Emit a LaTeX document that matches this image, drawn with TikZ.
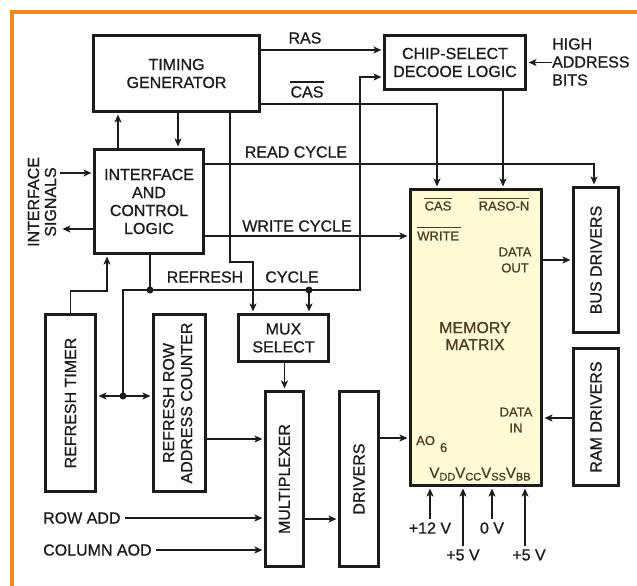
\documentclass[tikz,border=0pt]{standalone}
\usepackage{fontspec}
\setmainfont{Liberation Sans}[FakeBold=0.8]
\usetikzlibrary{arrows.meta,calc}
\definecolor{frameor}{RGB}{240,138,30}
\definecolor{mfill}{RGB}{255,250,214}
\definecolor{mtext}{RGB}{78,62,32}
\definecolor{ink}{RGB}{28,28,28}
\begin{document}
\begin{tikzpicture}[x=1pt,y=-1pt,
  box/.style={draw=ink, line width=3.3pt, inner sep=0pt, align=center, text=ink, font=\fontsize{16}{18}\selectfont},
  lbl/.style={inner sep=0pt, text=ink, font=\fontsize{16}{18}\selectfont},
  pin/.style={inner sep=0pt, text=mtext, font=\fontsize{13}{16}\selectfont},
  wire/.style={draw=ink, line width=1.3pt},
  ovl/.style={draw=mtext, line width=1.1pt},
  arr/.style={wire, shorten >=1.4pt, -{Stealth[length=8pt,width=7pt,inset=2pt]}},
  jdot/.style={fill=ink}]
\useasboundingbox (0,0) rectangle (637,586);
\fill[white] (0,0) rectangle (637,586);
\draw[frameor, line width=4pt] (12,586) -- (12,12) -- (637,12);

% boxes
\node[box, minimum width=166pt, minimum height=76pt] (tg) at (176.5,73.5) {TIMING\\GENERATOR};
\node[box, minimum width=141pt, minimum height=54pt] (cs) at (455,62.5) {CHIP-SELECT\\DECOOE LOGIC};
\node[box, minimum width=109pt, minimum height=104pt] (icl) at (149,201.5) {INTERFACE\\AND\\CONTROL\\LOGIC};
\node[box, fill=mfill, minimum width=131pt, minimum height=296pt] (mm) at (476,337.5) {};
\node[box, minimum width=45pt, minimum height=145pt] (bus) at (596,260) {\rotatebox{90}{BUS DRIVERS}};
\node[box, minimum width=45pt, minimum height=137pt] (ram) at (596,417) {\rotatebox{90}{RAM DRIVERS}};
\node[box, minimum width=39pt, minimum height=175pt] (drv) at (359,479) {\rotatebox{90}{DRIVERS}};
\node[box, minimum width=38pt, minimum height=175pt] (mux) at (284.5,479) {\rotatebox{90}{MULTIPLEXER}};
\node[box, minimum width=52pt, minimum height=177pt] (rrc) at (179.5,403) {\rotatebox{90}{\begin{tabular}{@{}c@{}}REFRESH ROW\\ADDRESS COUNTER\end{tabular}}};
\node[box, minimum width=50pt, minimum height=177pt] (rt) at (70.5,403) {\rotatebox{90}{REFRESH TIMER}};
\node[box, minimum width=90pt, minimum height=47pt] (ms) at (283.5,338) {MUX\\SELECT};

% memory matrix labels
\node[pin] (pcas) at (438,206) {CAS};
\draw[ovl] ([yshift=3pt]pcas.north west) -- ([yshift=3pt]pcas.north east);
\node[pin] (pras) at (504,206) {RASO-N};
\draw[ovl] ([yshift=3pt]pras.north west) -- ([yshift=3pt]pras.north east);
\node[pin, anchor=west] (pwr) at (417,236) {WRITE};
\draw[ovl] ([yshift=3.5pt]pwr.north west) -- ([yshift=3.5pt,xshift=2pt]pwr.north east);
\node[pin, align=center] (pdo) at (515,260) {DATA\\OUT};
\node[pin, align=center] (pdi) at (516,420) {DATA\\IN};
\node[pin, align=center, font=\fontsize{16}{17}\selectfont] (pmm) at (475,336) {MEMORY\\MATRIX};
\node[pin, anchor=base west] (pao) at (416,445) {AO\hspace{5pt}\raisebox{-7pt}{6}};
\node[pin, anchor=base, font=\fontsize{15}{16}\selectfont] (pv) at (480,478)
  {V{\fontsize{11}{11}\selectfont\raisebox{-2.5pt}{DD}}V{\fontsize{11}{11}\selectfont\raisebox{-2.5pt}{CC}}V{\fontsize{11}{11}\selectfont\raisebox{-2.5pt}{SS}}V{\fontsize{11}{11}\selectfont\raisebox{-2.5pt}{BB}}};

% free labels
\node[lbl] (lras) at (305,38) {RAS};
\node[lbl] (lcas) at (307,92) {CAS};
\draw[wire] ([yshift=4pt]lcas.north west) -- ([yshift=4pt]lcas.north east);
\node[lbl] (lread) at (296,152) {READ CYCLE};
\node[lbl] (lwrite) at (297,226) {WRITE CYCLE};
\node[lbl] (lref) at (205,277) {REFRESH};
\node[lbl] (lcyc) at (292,277) {CYCLE};
\node[lbl, anchor=west, align=left] (hab) at (552,62) {HIGH\\ADDRESS\\BITS};
\node[lbl, rotate=90, align=center, font=\fontsize{16}{17}\selectfont] (isig) at (42,202) {INTERFACE\\SIGNALS};
\node[lbl, anchor=west] (rowadd) at (43,518) {ROW ADD};
\node[lbl, anchor=west] (coladd) at (43,550) {COLUMN AOD};
\node[lbl] (v1) at (430,528) {+12 V};
\node[lbl] (v2) at (463,555) {+5 V};
\node[lbl] (v3) at (492,528) {0 V};
\node[lbl] (v4) at (529,555) {+5 V};

% coordinates
\coordinate (yRAS) at (0,50);
\coordinate (cCAS) at (437,104);
\coordinate (xR) at (503,0);
\coordinate (xUp) at (118,0);
\coordinate (xDn) at (178,0);
\coordinate (sigIn) at (60,173);
\coordinate (sigOut) at (61,229);
\coordinate (yRead) at (594,164);
\coordinate (yWr) at (0,236);
\coordinate (tA) at (230,262);
\coordinate (tB) at (253,262);
\coordinate (rA) at (150,290);
\coordinate (rB) at (309,290);
\coordinate (rC) at (360,290);
\coordinate (rD) at (360,77);
\coordinate (rL) at (123,290);
\coordinate (rL2) at (123,396);
\coordinate (t1) at (70,291);
\coordinate (t2) at (107,291);
\coordinate (yRC) at (0,439);
\coordinate (yMD) at (0,519);
\coordinate (yAO) at (0,438);
\coordinate (yDO) at (0,260);
\coordinate (yDI) at (0,418);
\coordinate (x4) at (525,0);

% connectors
\draw[arr] (tg.east |- yRAS) -- (cs.west |- yRAS);
\draw[arr] (tg.east |- cCAS) -- (cCAS) -- (cCAS |- mm.north);
\draw[arr] (xR |- cs.south) -- (xR |- mm.north);
\draw[arr] (hab.west |- cs.east) -- (cs.east);
\draw[arr] (xUp |- icl.north) -- (xUp |- tg.south);
\draw[arr] (xDn |- tg.south) -- (xDn |- icl.north);
\draw[arr] (sigIn) -- (icl.west |- sigIn);
\draw[arr] (icl.west |- sigOut) -- (sigOut);
\draw[arr] (icl.east |- yRead) -- (yRead) -- (yRead |- bus.north);
\draw[arr] (icl.east |- yWr) -- (mm.west |- yWr);
\draw[arr] (tA |- tg.south) -- (tA) -- (tB) -- (tB |- ms.north);
\draw[arr] (rA |- icl.south) -- (rA) -- (rC) -- (rD) -- (cs.west |- rD);
\draw[arr] (rB) -- (rB |- ms.north);
\draw[wire] (rA) -- (rL) -- (rL2);
\draw[arr] (rL2) -- (rt.east |- rL2);
\draw[arr] (rL2) -- (rrc.west |- rL2);
\draw[arr] (rt.north) -- (rt.north |- t1) -- (t2) -- (t2 |- icl.south);
\draw[arr] (mux.north |- ms.south) -- (mux.north);
\draw[arr] (rrc.east |- yRC) -- (mux.west |- yRC);
\draw[arr] ([xshift=4pt]rowadd.east) -- (mux.west |- rowadd.east);
\draw[arr] ([xshift=4pt]coladd.east) -- (mux.west |- coladd.east);
\draw[arr] (mux.east |- yMD) -- (drv.west |- yMD);
\draw[arr] (drv.east |- yAO) -- (mm.west |- yAO);
\draw[arr] (mm.east |- yDO) -- (bus.west |- yDO);
\draw[arr] (ram.west |- yDI) -- (mm.east |- yDI);
\draw[arr] ([yshift=3pt]v1.north) -- (v1.north |- mm.south);
\draw[arr] ([yshift=3pt]v2.north) -- (v2.north |- mm.south);
\draw[arr] ([yshift=3pt]v3.north) -- (v3.north |- mm.south);
\draw[arr] ([yshift=3pt]x4 |- v4.north) -- (x4 |- mm.south);

% junction dots
\fill[jdot] (rA) circle (3.5pt);
\fill[jdot] (rB) circle (3.5pt);
\fill[jdot] (rL2) circle (3.5pt);
\end{tikzpicture}
\end{document}
